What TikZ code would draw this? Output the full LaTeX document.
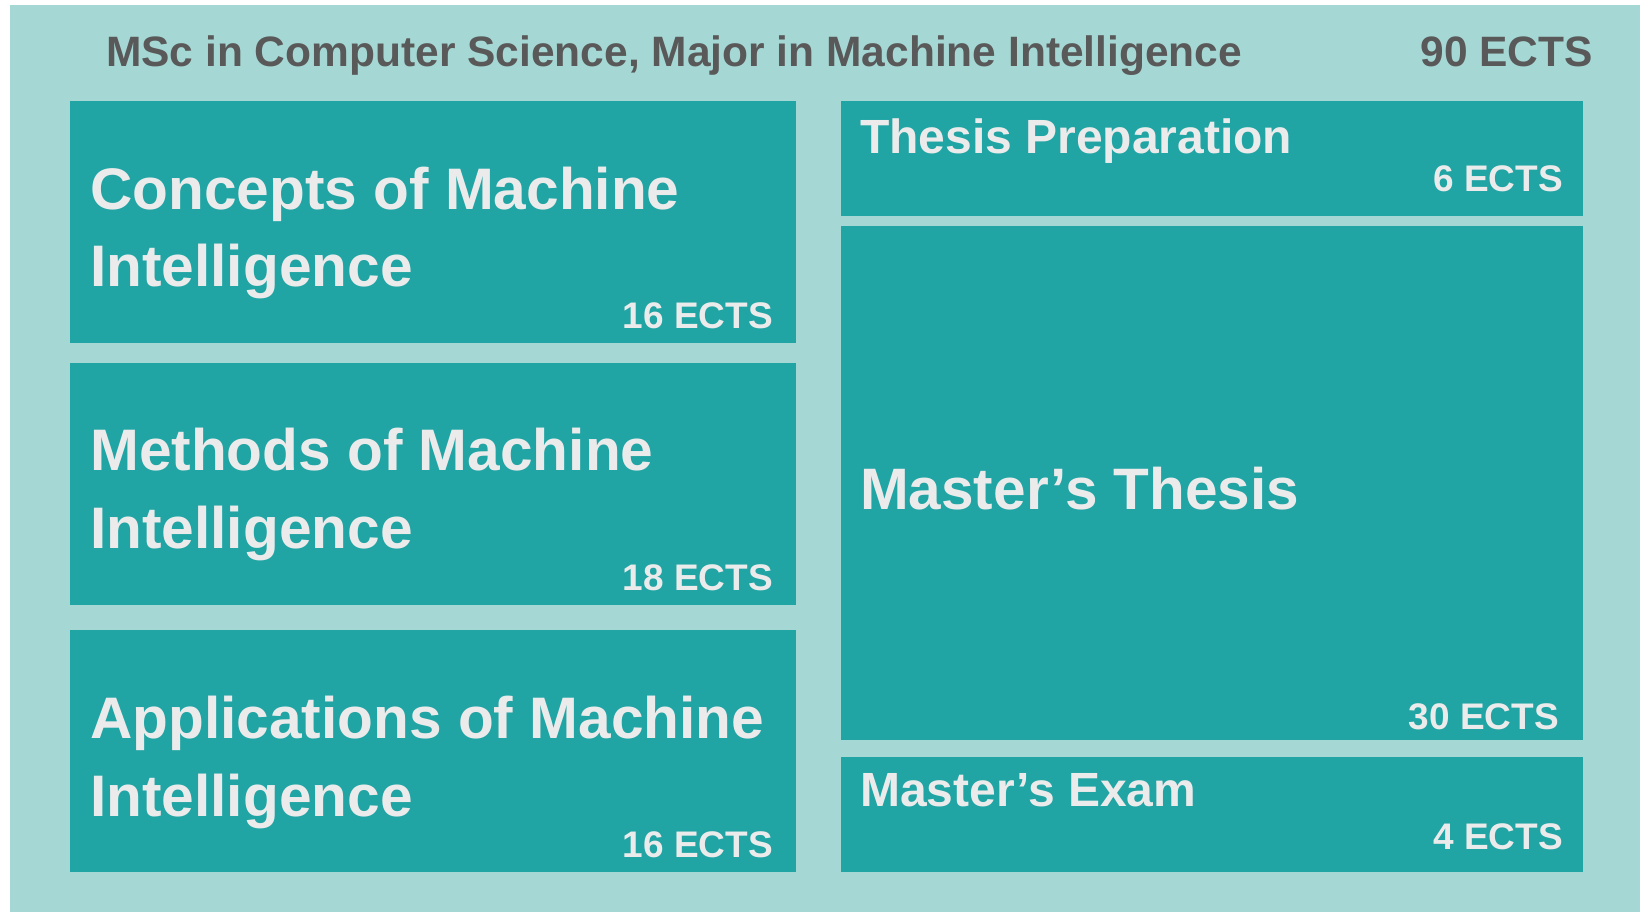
\documentclass[tikz,border=0pt]{standalone}
\usepackage{fontspec}
\setmainfont{Liberation Sans}
\definecolor{mibg}{HTML}{A5D8D4}
\definecolor{miteal}{HTML}{20A4A4}
\definecolor{mitext}{HTML}{EBEBEB}
\definecolor{migrey}{HTML}{595959}

\begin{document}
\begin{tikzpicture}[x=1pt,y=-1pt,
  modbox/.style={fill=miteal},
  modtitle/.style={anchor=base west, inner sep=0pt, align=left, text=mitext,
    font=\bfseries\fontsize{58.6}{77.5}\selectfont},
  ects/.style={anchor=base east, inner sep=0pt, text=mitext,
    font=\bfseries\fontsize{37}{40}\selectfont},
  headtext/.style={inner sep=0pt, text=migrey,
    font=\bfseries\fontsize{42.5}{48}\selectfont}]
  \useasboundingbox (0,0) rectangle (1640,912);
  \fill[mibg] (10,5) rectangle (1640,912);

  % Header
  \node[headtext, anchor=base west] (title) at (106,66.7) {MSc in Computer Science, Major in Machine Intelligence};
  \node[headtext, anchor=base east] (total) at (1593,66.7) {90 ECTS};

  % Left column: Concepts (base = last line)
  \fill[modbox] (70,101) rectangle (796,343);
  \node[modtitle] (concepts) at (90,286.7) {Concepts of Machine\\Intelligence};
  \node[ects] (conceptsects) at (773,328) {16 ECTS};

  % Left column: Methods
  \fill[modbox] (70,363) rectangle (796,605);
  \node[modtitle] (methods) at (90,548.3) {Methods of Machine\\Intelligence};
  \node[ects] (methodsects) at (773,590.5) {18 ECTS};

  % Left column: Applications
  \fill[modbox] (70,630) rectangle (796,872);
  \node[modtitle] (applications) at (90,816) {Applications of Machine\\Intelligence};
  \node[ects] (applicationsects) at (773,857) {16 ECTS};

  % Right column: Thesis Preparation
  \fill[modbox] (841,101) rectangle (1583,216);
  \node[modtitle, font=\bfseries\fontsize{48}{52}\selectfont] (prep) at (860,154) {Thesis Preparation};
  \node[ects] (prepects) at (1563,191.7) {6 ECTS};

  % Right column: Master's Thesis
  \fill[modbox] (841,226) rectangle (1583,740);
  \node[modtitle, font=\bfseries\fontsize{58.5}{64}\selectfont] (thesis) at (860,509.3) {Master’s Thesis};
  \node[ects] (thesisects) at (1559,729) {30 ECTS};

  % Right column: Master's Exam
  \fill[modbox] (841,757) rectangle (1583,872);
  \node[modtitle, font=\bfseries\fontsize{48}{52}\selectfont] (exam) at (860,806.7) {Master’s Exam};
  \node[ects] (examects) at (1563,849) {4 ECTS};
\end{tikzpicture}
\end{document}
